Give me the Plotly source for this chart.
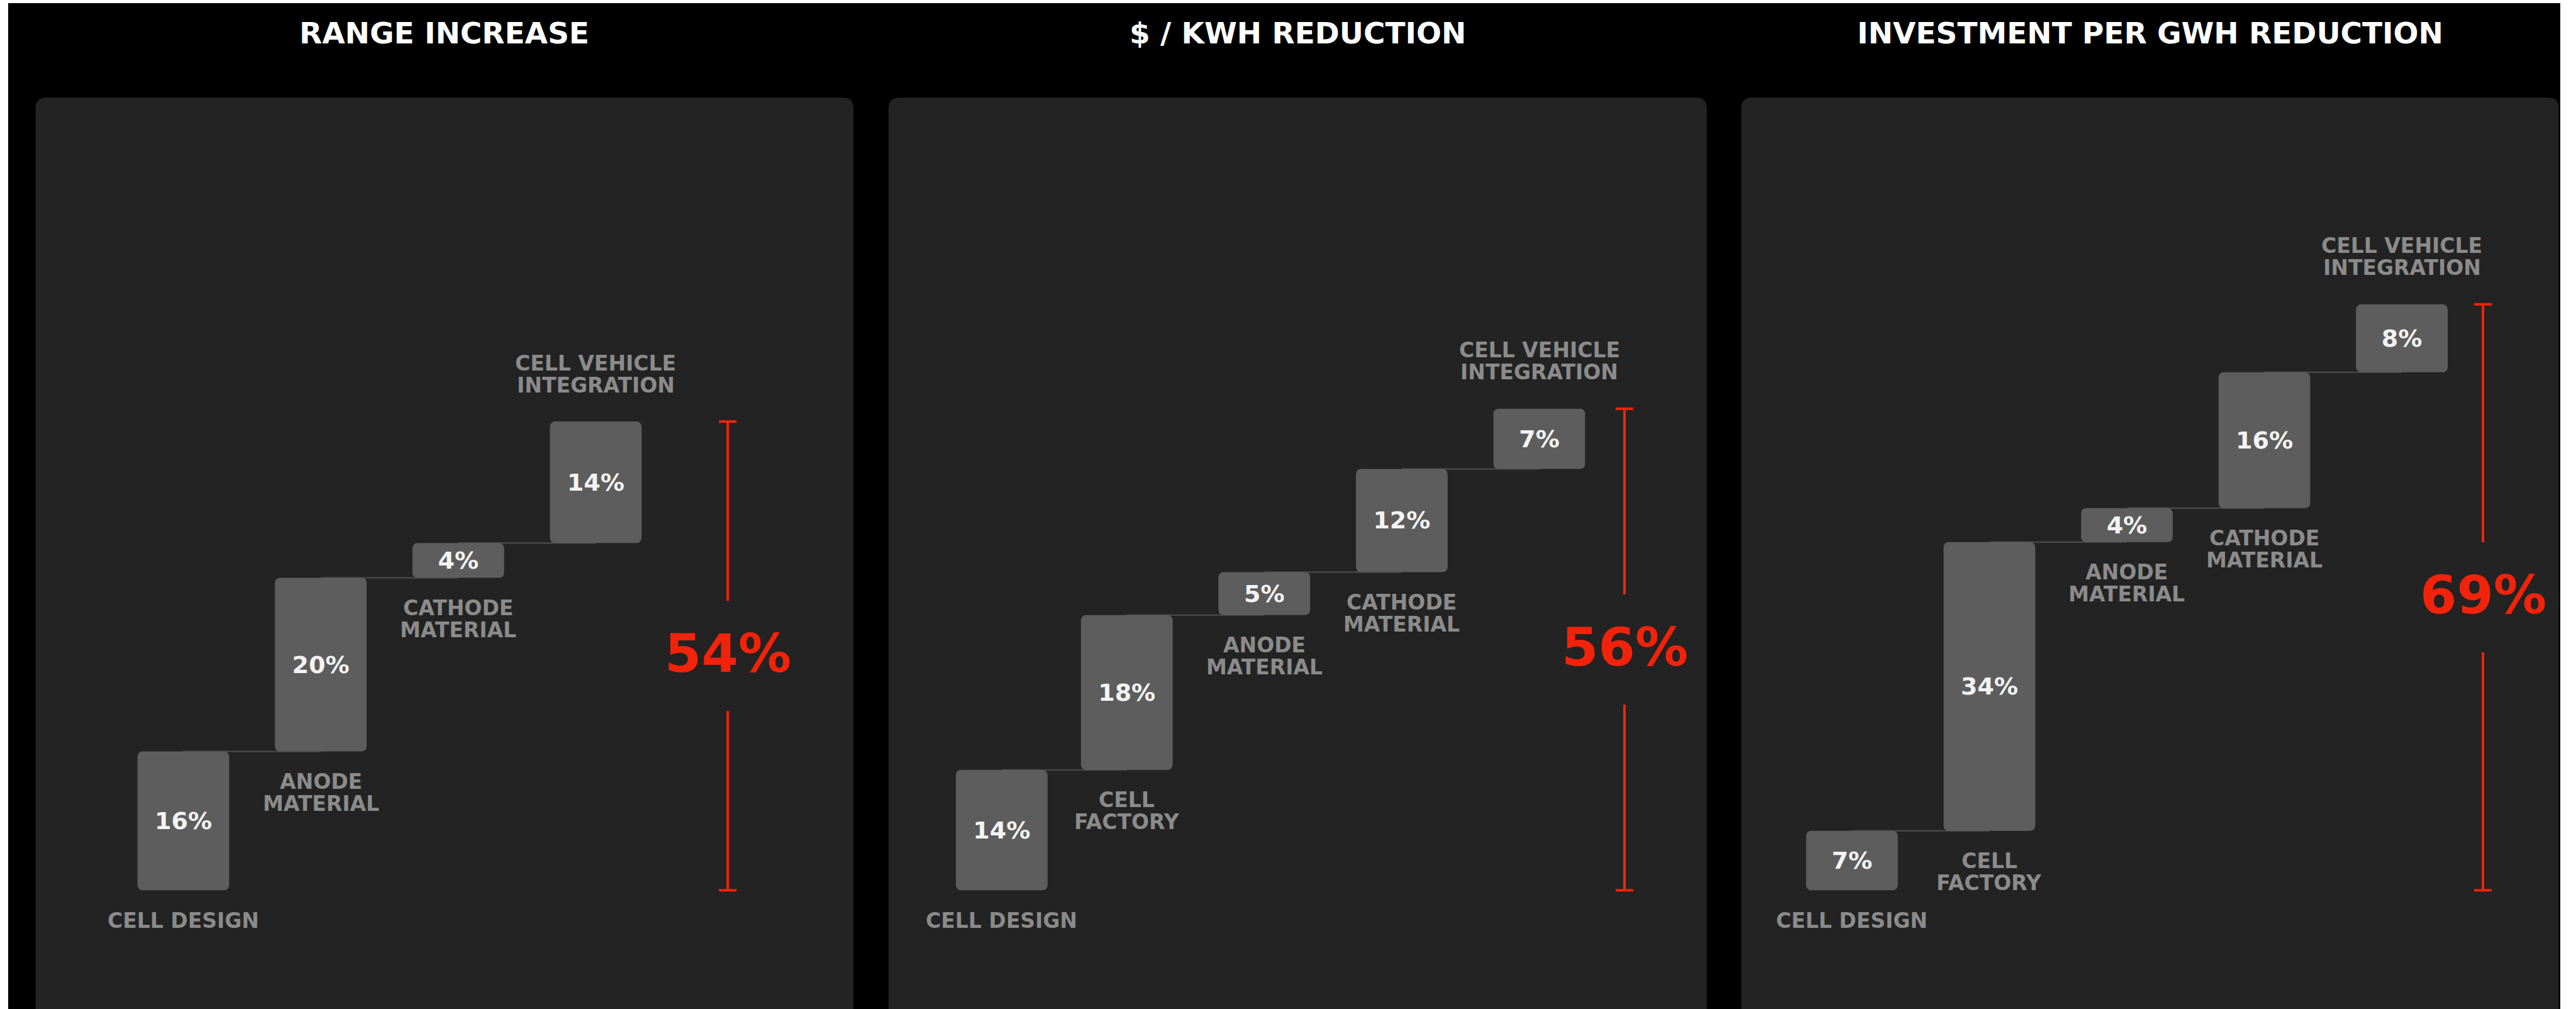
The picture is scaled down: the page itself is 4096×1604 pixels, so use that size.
import plotly.graph_objects as go

# ---------------------------------------------------------------- data
titles = ["RANGE INCREASE", "$ / KWH REDUCTION", "INVESTMENT PER GWH REDUCTION"]

range_labels = ["CELL DESIGN", "ANODE\nMATERIAL", "CATHODE\nMATERIAL",
                "CELL VEHICLE\nINTEGRATION"]
range_values = [16, 20, 4, 14]
range_total = 54

cost_labels = ["CELL DESIGN", "CELL\nFACTORY", "ANODE\nMATERIAL",
               "CATHODE\nMATERIAL", "CELL VEHICLE\nINTEGRATION"]
cost_values = [14, 18, 5, 12, 7]
cost_total = 56

invest_labels = ["CELL DESIGN", "CELL\nFACTORY", "ANODE\nMATERIAL",
                 "CATHODE\nMATERIAL", "CELL VEHICLE\nINTEGRATION"]
invest_values = [7, 34, 4, 16, 8]
invest_total = 69

# ---------------------------------------------------------------- layout constants
W, H = 4096, 1604
FONT = "DejaVu Sans"
RED = "#f2230b"
BAR_COLOR = "#5d5d5d"
PANEL_COLOR = "#232323"
LABEL_COLOR = "#8b8b8b"
LINK_COLOR = "#474747"

BASE_Y = 1415.3      # pixel row of the 0 % baseline
STEP = 218.6         # pixels between neighbouring bar slots
BAR_W = 0.667        # bar width in slot units
PANEL_TOP = 155.2
PANEL_R = 17
GAP_PX = 87.5        # half gap in the red bracket around the total

panels = [
    dict(title=titles[0], labels=range_labels, values=range_values, total=range_total,
         left=56.6, right=1357.1, x0=291.5, px_per_pct=13.80,
         xs=[0, 1, 2, 3], total_x=3.96),
    dict(title=titles[1], labels=cost_labels, values=cost_values, total=cost_total,
         left=1412.8, right=2714.0, x0=1573.1, px_per_pct=13.67,
         xs=[0.09, 1, 2, 3, 4], total_x=4.62),
    dict(title=titles[2], labels=invest_labels, values=invest_values, total=invest_total,
         left=2768.8, right=4068.6, x0=2944.7, px_per_pct=13.50,
         xs=[0, 1, 2, 3, 4], total_x=4.59),
]


def px(x):
    return x / W


def py(y):
    return 1 - y / H


fig = go.Figure()
shapes = []
annotations = []

# black backdrop with a thin white frame on the left, top and right
shapes.append(dict(type="rect", xref="paper", yref="paper", layer="below",
                   x0=px(13), x1=px(4071), y0=0, y1=py(5),
                   fillcolor="#000000", line=dict(width=0)))

layout_axes = {}
for k, p in enumerate(panels, start=1):
    xa = "x" if k == 1 else f"x{k}"
    ya = "y" if k == 1 else f"y{k}"
    xname = "xaxis" if k == 1 else f"xaxis{k}"
    yname = "yaxis" if k == 1 else f"yaxis{k}"
    s = p["px_per_pct"]

    layout_axes[xname] = dict(domain=[0, 1], range=[-p["x0"] / STEP, (W - p["x0"]) / STEP],
                              visible=False, fixedrange=True, anchor=ya)
    layout_axes[yname] = dict(domain=[0, 1], range=[-(H - BASE_Y) / s, BASE_Y / s],
                              visible=False, fixedrange=True, anchor=xa)

    # rounded-top panel card running off the bottom edge
    l, r, t, rad = p["left"], p["right"], PANEL_TOP, PANEL_R
    path = (f"M{px(l)},{py(H + 10)} L{px(l)},{py(t + rad)} "
            f"Q{px(l)},{py(t)} {px(l + rad)},{py(t)} "
            f"L{px(r - rad)},{py(t)} Q{px(r)},{py(t)} {px(r)},{py(t + rad)} "
            f"L{px(r)},{py(H + 10)} Z")
    shapes.append(dict(type="path", xref="paper", yref="paper", layer="below",
                       path=path, fillcolor=PANEL_COLOR, line=dict(width=0)))

    # panel heading
    annotations.append(dict(xref="paper", yref="paper", x=px((l + r) / 2), y=py(52.3),
                            text=p["title"], showarrow=False, xanchor="center",
                            yanchor="middle",
                            font=dict(family=FONT, size=47, color="#ffffff", weight="bold")))

    values = p["values"]
    xs = p["xs"]
    bases = []
    acc = 0
    for v in values:
        bases.append(acc)
        acc += v
    tops = [b + v for b, v in zip(bases, values)]

    # thin step connectors between consecutive bars
    for i in range(len(values) - 1):
        shapes.append(dict(type="line", xref=xa, yref=ya, layer="below",
                           x0=xs[i], x1=xs[i + 1], y0=tops[i], y1=tops[i],
                           line=dict(color=LINK_COLOR, width=2.5)))

    fig.add_trace(go.Bar(
        x=xs, y=values, base=bases, width=BAR_W,
        marker=dict(color=BAR_COLOR, cornerradius=8, line=dict(width=0)),
        text=[f"{v}%" for v in values], textposition="inside",
        insidetextanchor="middle", constraintext="none", textangle=0,
        insidetextfont=dict(family=FONT, size=38, color="#f4f4f4", weight="bold"),
        hoverinfo="skip", xaxis=xa, yaxis=ya, showlegend=False))

    # category captions: below each step, above the final one
    n = len(values)
    for i, lab in enumerate(p["labels"]):
        lines = lab.split("\n")
        for j, line in enumerate(lines):
            if i == n - 1:
                y = tops[i]
                shift = 58 + 35 * (len(lines) - 1 - j)
            else:
                y = bases[i]
                shift = -(48 + 35 * j)
            annotations.append(dict(xref=xa, yref=ya, x=xs[i], y=y, yshift=shift,
                                    text=line, showarrow=False, xanchor="center",
                                    yanchor="middle",
                                    font=dict(family=FONT, size=33, color=LABEL_COLOR,
                                              weight="bold")))

    # red bracket with the overall figure in the middle
    total = p["total"]
    gap = GAP_PX / s
    mid = total / 2
    tx = p["total_x"]
    for y0, y1 in [(0, mid - gap), (mid + gap, total)]:
        fig.add_trace(go.Scatter(x=[tx, tx], y=[y0, y1], mode="lines",
                                 line=dict(color=RED, width=4), hoverinfo="skip",
                                 xaxis=xa, yaxis=ya, showlegend=False))
    fig.add_trace(go.Scatter(x=[tx, tx], y=[0, total], mode="markers",
                             marker=dict(symbol="line-ew", size=20,
                                         line=dict(color=RED, width=4)),
                             hoverinfo="skip", xaxis=xa, yaxis=ya, showlegend=False))
    annotations.append(dict(xref=xa, yref=ya, x=tx, y=mid, yshift=4,
                            text=f"{total}%", showarrow=False, xanchor="center",
                            yanchor="middle",
                            font=dict(family=FONT, size=84, color=RED, weight="bold")))

fig.update_layout(
    width=W, height=H,
    margin=dict(l=0, r=0, t=0, b=0),
    paper_bgcolor="#ffffff",
    plot_bgcolor="rgba(0,0,0,0)",
    showlegend=False,
    shapes=shapes,
    annotations=annotations,
    barmode="overlay",
    **layout_axes,
)

fig.write_html("out.html", config={"displayModeBar": False})
